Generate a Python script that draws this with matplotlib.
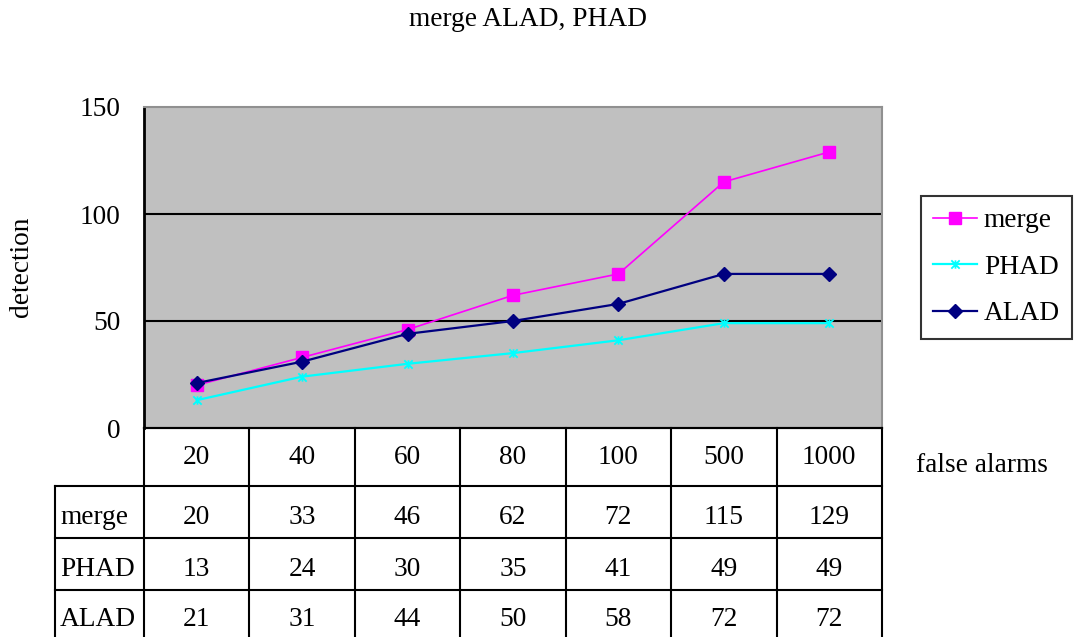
import matplotlib
matplotlib.use('Agg')
import matplotlib.pyplot as plt
from matplotlib.path import Path
from matplotlib.lines import Line2D
from matplotlib import transforms

plt.rcParams['font.family'] = ['Liberation Serif', 'DejaVu Serif']
FS = 19.7

false_alarms = ['20', '40', '60', '80', '100', '500', '1000']
series_names = ['merge', 'PHAD', 'ALAD']
merge = [20, 33, 46, 62, 72, 115, 129]
phad = [13, 24, 30, 35, 41, 49, 49]
alad = [21, 31, 44, 50, 58, 72, 72]

# excel style star marker: an x with a vertical stroke
star = Path([(-1, -1), (1, 1), (-1, 1), (1, -1), (0, -1), (0, 1)],
            [Path.MOVETO, Path.LINETO, Path.MOVETO, Path.LINETO, Path.MOVETO, Path.LINETO])

W, H = 1075, 637
fig = plt.figure(figsize=(W / 100, H / 100), dpi=100)
ax = fig.add_axes([144 / W, 1 - 428 / H, 738 / W, 321 / H])
ax.set_facecolor('#c0c0c0')

x = list(range(len(false_alarms)))
ax.plot(x, merge, color='#ff00ff', lw=1.2, marker='s', ms=8.5, label='merge', zorder=3)
ax.plot(x, phad, color='#00ffff', lw=1.6, marker=star, ms=6, mew=1.3, label='PHAD', zorder=3)
ax.plot(x, alad, color='#000080', lw=1.6, marker='D', ms=7.5, label='ALAD', zorder=4)

ax.set_xlim(-0.5, len(false_alarms) - 0.5)
ax.set_ylim(0, 150)
ax.set_yticks([0, 50, 100, 150])
ax.set_xticks([])
ax.tick_params(axis='y', length=0, pad=17, labelsize=FS)
for v in [50, 100]:
    ax.axhline(v, color='black', lw=1.5, zorder=2)
ax.spines['left'].set_linewidth(2)
ax.spines['bottom'].set_linewidth(1.5)
ax.spines['top'].set_color('#909090')
ax.spines['right'].set_color('#909090')
ax.spines['top'].set_linewidth(1.5)
ax.spines['right'].set_linewidth(1.5)

fig.text(528 / W, 1 - 20 / H, 'merge ALAD, PHAD', ha='center', va='center', fontsize=FS)
fig.text(22 / W, 1 - 267 / H, 'detection', rotation=90, ha='center', va='center', fontsize=FS)
fig.text(916 / W, 1 - 466 / H, 'false alarms', ha='left', va='center', fontsize=FS)

# data table under the plot: columns follow the category axis
tr = transforms.blended_transform_factory(ax.transData, fig.transFigure)
rows_y = [1 - 428 / H, 1 - 486 / H, 1 - 538 / H, 1 - 590 / H, 0.0]
lab_left = 55 / W
lo, hi = -0.5, len(false_alarms) - 0.5
lk = dict(color='black', lw=1.5, clip_on=False)
for i in range(len(false_alarms) + 1):
    fig.add_artist(Line2D([lo + i, lo + i], [rows_y[0], rows_y[-1]], transform=tr, **lk))
for yy in rows_y[:4]:
    fig.add_artist(Line2D([lo, hi], [yy, yy], transform=tr, **lk))
for yy in rows_y[1:4]:
    fig.add_artist(Line2D([lab_left, 144 / W], [yy, yy], transform=fig.transFigure, **lk))
fig.add_artist(Line2D([lab_left, lab_left], [rows_y[1], 0], transform=fig.transFigure, **lk))

for i, lab in enumerate(false_alarms):
    fig.text(i, (rows_y[0] + rows_y[1]) / 2, lab, transform=tr, ha='center', va='center', fontsize=FS)
for r, (name, vals) in enumerate(zip(series_names, [merge, phad, alad])):
    yc = (rows_y[r + 1] + rows_y[r + 2]) / 2 - 6 / H
    fig.text(60 / W, yc, name, ha='left', va='center', fontsize=FS)
    for i, v in enumerate(vals):
        fig.text(i, yc, str(v), transform=tr, ha='center', va='center', fontsize=FS)

leg = fig.legend(loc='upper left', bbox_to_anchor=(921 / W, 1 - 196 / H), fontsize=FS,
                 frameon=True, fancybox=False, edgecolor='black', handlelength=1.6,
                 handletextpad=0.25, labelspacing=0.78, borderpad=0.45, borderaxespad=0)
leg.get_frame().set_linewidth(1.5)

fig.savefig('out.png', dpi=100)
